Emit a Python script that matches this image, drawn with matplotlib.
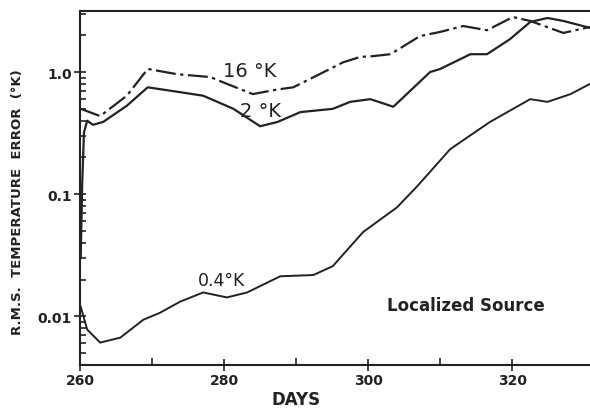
#recreate the localized source rms temperature error chart

import matplotlib
import matplotlib.pyplot as plt
from matplotlib.ticker import FixedLocator, LogLocator, NullFormatter

matplotlib.use('Agg') #no display

#data (days, rms error in K)
days_16K = [260.1, 262.8, 266.5, 269.4, 273.5, 278.1, 280.4, 284.0, 287.4, 289.6, 294.7,
            296.5, 298.9, 300.7, 303.1, 307.2, 310.0, 313.2, 316.5, 320.1, 322.5, 327.1, 330.8]
err_16K = [0.50, 0.436, 0.64, 1.06, 0.96, 0.91, 0.80, 0.66, 0.72, 0.75, 1.06,
           1.20, 1.33, 1.35, 1.40, 1.97, 2.13, 2.38, 2.20, 2.82, 2.62, 2.09, 2.34]

days_2K = [260.1, 260.3, 260.55, 261.0, 261.8, 263.2, 266.5, 269.4, 273.5, 277.1, 281.3, 285.0,
           287.4, 290.6, 295.1, 297.5, 300.3, 303.5, 308.6, 310.0, 314.2, 316.5, 319.7,
           322.5, 324.9, 327.1, 330.8]
err_2K = [0.03, 0.12, 0.32, 0.40, 0.37, 0.39, 0.53, 0.75, 0.69, 0.64, 0.50, 0.36,
          0.39, 0.47, 0.50, 0.57, 0.60, 0.52, 1.00, 1.06, 1.40, 1.40, 1.86,
          2.57, 2.77, 2.62, 2.30]

days_04K = [260.1, 261.0, 262.8, 265.6, 268.8, 271.1, 273.9, 277.1, 280.4, 283.2, 287.8,
            292.4, 295.1, 299.3, 304.0, 306.8, 311.4, 316.9, 322.5, 324.9, 328.1, 330.8]
err_04K = [0.012, 0.0078, 0.0061, 0.0067, 0.0094, 0.0107, 0.0132, 0.0157, 0.0143, 0.0157, 0.0213,
           0.0218, 0.0258, 0.049, 0.078, 0.116, 0.234, 0.39, 0.60, 0.57, 0.66, 0.80]

x_ticks = [260, 280, 300, 320]
x_minor = [270, 290, 310]
y_ticks = [0.01, 0.1, 1.0]
y_ticklabels = ['0.01', '0.1', '1.0']

ink = '#222222'

fig = plt.figure(figsize=(5.9, 4.1), dpi=100)
ax = fig.add_axes([80/590, 1 - 366/410, 1 - 80/590, 354/410])

ax.plot(days_16K, err_16K, color=ink, lw=1.6, linestyle=(0, (9, 2, 1.5, 2)))
ax.plot(days_2K, err_2K, color=ink, lw=1.6)
ax.plot(days_04K, err_04K, color=ink, lw=1.4)

ax.set_yscale('log')
ax.set_xlim(260, 330.8)
ax.set_ylim(0.004, 3.16)

ax.xaxis.set_major_locator(FixedLocator(x_ticks))
ax.xaxis.set_minor_locator(FixedLocator(x_minor))
ax.set_xticklabels([str(t) for t in x_ticks], fontweight='bold', fontsize=10,
                   fontfamily='DejaVu Sans Condensed')
ax.yaxis.set_major_locator(FixedLocator(y_ticks))
ax.yaxis.set_minor_locator(LogLocator(base=10, subs=range(2, 10)))
ax.yaxis.set_minor_formatter(NullFormatter())
ax.set_yticklabels(y_ticklabels, fontweight='bold', fontsize=10,
                   fontfamily='DejaVu Sans Condensed')

ax.tick_params(axis='x', which='major', direction='inout', length=8, width=1.2, colors=ink, pad=2)
ax.tick_params(axis='x', which='minor', direction='in', length=5, width=1.2, colors=ink)
ax.tick_params(axis='y', which='major', direction='inout', length=8, width=1.2, colors=ink, pad=2)
ax.tick_params(axis='y', which='minor', direction='in', length=4, width=1.2, colors=ink)

for side in ['left', 'bottom', 'top']:
    ax.spines[side].set_linewidth(1.5)
    ax.spines[side].set_color(ink)
ax.spines['right'].set_visible(False)

#curve labels
ax.text(283.5, 1.02, '16 °K', fontsize=14, color=ink, ha='center', va='center')
ax.text(285.0, 0.48, '2 °K', fontsize=14, color=ink, ha='center', va='center')
ax.text(279.6, 0.020, '0.4°K', fontsize=12.5, color=ink, ha='center', va='center')
ax.text(313.5, 0.0123, 'Localized Source', fontsize=12, fontweight='bold', color=ink,
        ha='center', va='center')

fig.text(296/590, 1 - 400/410, 'DAYS', fontsize=12, fontweight='bold', color=ink,
         ha='center', va='center')
fig.text(18/590, 1 - 202/410, 'R.M.S.  TEMPERATURE  ERROR  (°K)', fontsize=9.5,
         fontweight='bold', fontfamily='DejaVu Sans Condensed', color=ink,
         rotation=90, ha='center', va='center')

fig.savefig('out.png', dpi=100)
